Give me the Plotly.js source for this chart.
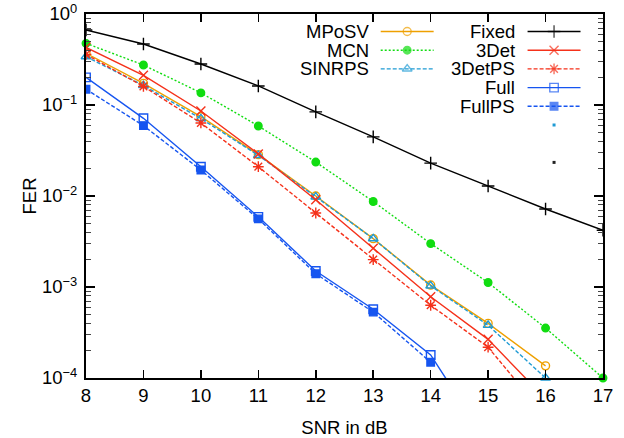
<!DOCTYPE html>
<html>
<head>
<meta charset="utf-8">
<script src="https://cdn.plot.ly/plotly-3.0.1.min.js"></script>
<style>
html,body{margin:0;padding:0;background:#fff;}
#chart{width:624px;height:438px;}
</style>
</head>
<body>
<div id="chart"></div>
<script>
// ---- data ----
const snr = [8, 9, 10, 11, 12, 13, 14, 15, 16, 17];

const fixed  = [0.667, 0.468, 0.282, 0.162, 0.084, 0.0446, 0.023, 0.0129, 0.0072, 0.0042];
const mcn    = [0.476, 0.275, 0.136, 0.0588, 0.0236, 0.0087, 0.0030, 0.00112, 0.000354, 0.0001];
const mposv  = [0.37, 0.173, 0.0744, 0.0285, 0.0100, 0.0034, 0.00105, 0.000398, 0.000136];
const sinrps = [0.34, 0.164, 0.071, 0.028, 0.0098, 0.0034, 0.00103, 0.00038, 0.0001];
const det3   = [0.43, 0.212, 0.086, 0.029, 0.0091, 0.00266, 0.00078, 0.000266, 0.000059];
const det3ps = [0.36, 0.16, 0.0635, 0.021, 0.0065, 0.0020, 0.00063, 0.000218, 0.000038];
const full   = [0.201, 0.0714, 0.021, 0.0059, 0.0015, 0.00057, 0.000179, 0.000019];
const fullps = [0.149, 0.0593, 0.0193, 0.0056, 0.0014, 0.00053, 0.000149];

const yTickVals = [1e-4, 1e-3, 1e-2, 1e-1, 1];
const yTickText = ['10<sup>−4</sup>', '10<sup>−3</sup>', '10<sup>−2</sup>', '10<sup>−1</sup>', '10<sup>0</sup>'];

// ---- styles ----
const FONT = 'Liberation Sans, Arial, Helvetica, sans-serif';
const FS = 18.5;
const C_ORANGE = '#eea000';
const C_GREEN  = '#11dd11';
const C_SKY    = '#1f9bd4';
const C_RED    = '#f5311a';
const C_BLUE   = '#1655f0';

const series = [
  {name:'MPoSV',  y:mposv,  color:C_ORANGE, dash:'solid',     symbol:'circle-open',     size:8,  clip:true,  col:0, row:0},
  {name:'MCN',    y:mcn,    color:C_GREEN,  dash:'2px,2px',   symbol:'circle',          size:7.5,clip:false, col:0, row:1},
  {name:'SINRPS', y:sinrps, color:C_SKY,    dash:'4px,2px',   symbol:'triangle-up-open',size:8.5,clip:false, col:0, row:2},
  {name:'Fixed',  y:fixed,  color:'#000',   dash:'solid',     symbol:'cross-thin-open', size:9,  clip:true,  col:1, row:0},
  {name:'3Det',   y:det3,   color:C_RED,    dash:'solid',     symbol:'x-thin-open',     size:9,  clip:true,  col:1, row:1},
  {name:'3DetPS', y:det3ps, color:C_RED,    dash:'4px,2px',   symbol:'asterisk-open',   size:9,  clip:true,  col:1, row:2},
  {name:'Full',   y:full,   color:C_BLUE,   dash:'solid',     symbol:'square-open',     size:8.5,clip:true,  col:1, row:3},
  {name:'FullPS', y:fullps, color:C_BLUE,   dash:'4px,2px',   symbol:'square',          size:7.5,clip:true,  col:1, row:4}
];

const traces = series.map(s => ({
  x: snr.slice(0, s.y.length), y: s.y,
  type:'scatter', mode:'lines+markers', showlegend:false,
  cliponaxis: s.clip,
  line:{color:s.color, width:1.4, dash:s.dash},
  marker:{symbol:s.symbol, size:s.size, color:s.color, line:{color:s.color, width:1.4}}
}));

// ---- custom gnuplot-style legend (pixel coordinates on overlay axes) ----
const PX_L = 86, PX_R = 603.5, PX_T = 14, PX_B = 378;
const LEG_ROW0 = 31.5, LEG_DY = 18.7;
const LEG_COLS = [{textRight:370, x0:381, x1:434}, {textRight:516, x0:528, x1:581}];
const annotations = [];
series.forEach(s => {
  const c = LEG_COLS[s.col];
  const ry = LEG_ROW0 + s.row * LEG_DY;
  const xc = (c.x0 + c.x1) / 2;
  traces.push({
    x:[c.x0, xc, c.x1], y:[ry, ry, ry], xaxis:'x2', yaxis:'y2',
    type:'scatter', mode:'lines+markers', showlegend:false, hoverinfo:'skip',
    line:{color:s.color, width:1.4, dash:s.dash},
    marker:{symbol:s.symbol, size:[0, s.size, 0], color:s.color, line:{color:s.color, width:1.4}}
  });
  annotations.push({
    xref:'x2', yref:'y2', x:c.textRight, y:ry, xanchor:'right', yanchor:'middle',
    text:s.name, showarrow:false, borderpad:0, font:{family:FONT, size:FS, color:'#000'}
  });
});
// two untitled dot entries
[{row:5, color:C_SKY}, {row:7, color:'#222'}].forEach(d => {
  const c = LEG_COLS[1];
  traces.push({
    x:[(c.x0 + c.x1) / 2], y:[LEG_ROW0 + d.row * LEG_DY], xaxis:'x2', yaxis:'y2',
    type:'scatter', mode:'markers', showlegend:false, hoverinfo:'skip',
    marker:{symbol:'square', size:3, color:d.color}
  });
});

// minor ticks for the log axis
const minorVals = [];
for (let e = -4; e < 0; e++) for (let m = 2; m <= 9; m++) minorVals.push(m * Math.pow(10, e));

const layout = {
  width:624, height:438,
  margin:{l:PX_L, r:624 - PX_R, t:PX_T, b:438 - PX_B, pad:0},
  paper_bgcolor:'#fff', plot_bgcolor:'#fff',
  font:{family:FONT, size:FS, color:'#000'},
  showlegend:false,
  xaxis:{
    range:[8, 17], dtick:1, tick0:8, ticks:'inside', ticklen:8, tickwidth:1.5, tickcolor:'#000',
    mirror:'allticks', showline:true, linewidth:2, linecolor:'#000',
    showgrid:false, zeroline:false,
    tickfont:{family:FONT, size:FS}, ticklabelstandoff:0,
    title:{text:'SNR in dB', font:{family:FONT, size:FS}, standoff:17}
  },
  yaxis:{
    type:'log', range:[-4, 0], tickmode:'array', tickvals:yTickVals, ticktext:yTickText,
    ticks:'inside', ticklen:9, tickwidth:1.5, tickcolor:'#000',
    mirror:'allticks', showline:true, linewidth:2, linecolor:'#000',
    showgrid:false, zeroline:false,
    minor:{tickmode:'array', tickvals:minorVals, ticks:'inside', ticklen:5, tickwidth:1, tickcolor:'#444', showgrid:false},
    tickfont:{family:FONT, size:FS}, ticklabelstandoff:3,
    title:{text:'FER', font:{family:FONT, size:FS}, standoff:0}
  },
  xaxis2:{overlaying:'x', range:[PX_L, PX_R], visible:false, fixedrange:true},
  yaxis2:{overlaying:'y', range:[PX_B, PX_T], visible:false, fixedrange:true},
  annotations:annotations
};

Plotly.newPlot('chart', traces, layout, {staticPlot:true, displayModeBar:false});
</script>
</body>
</html>
